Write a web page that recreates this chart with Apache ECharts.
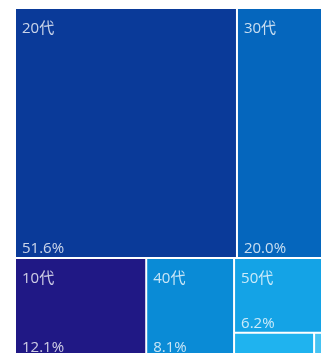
<!DOCTYPE html>
<html><head><meta charset="utf-8">
<script src="https://cdn.jsdelivr.net/npm/echarts@6/dist/echarts.min.js"></script>
<style>html,body{margin:0;padding:0;background:#fff;overflow:hidden}#c{width:321px;height:353px}</style>
</head><body><div id="c"></div>
<script>
const categories = ['20代', '30代', '10代', '40代', '50代', '60代', '70代以上'];
const shares = [51.6, 20.0, 12.1, 8.1, 6.2, 1.8, 0.2];
const colors = ['#0a3a99', '#0566bd', '#201885', '#0a8bd6', '#14a3e6', '#1fb3ef', '#45c3f3'];

const FONT = '"Open Sans", "Noto Sans CJK JP", sans-serif';
const TXT = 'rgba(255,255,255,0.78)';

const baseData = categories.map((c, i) => ({ name: c, value: shares[i] }));

const nameData = baseData.map((d, i) => ({
  name: d.name, value: d.value,
  itemStyle: { color: colors[i] },
  label: { show: d.value >= 3 }
}));
const pctData = baseData.map((d, i) => ({
  name: d.name, value: d.value,
  itemStyle: { color: 'rgba(0,0,0,0)' },
  label: { show: d.value >= 3 }
}));

const common = {
  type: 'treemap',
  left: 16, top: 9, width: 306, height: 347,
  roam: false, nodeClick: false,
  breadcrumb: { show: false },
  squareRatio: 0.5 * (1 + Math.sqrt(5)),
  animation: false,
  emphasis: { disabled: true },
  silent: true
};

const chart = echarts.init(document.getElementById('c'), null, { renderer: 'canvas' });
chart.setOption({
  animation: false,
  series: [
    Object.assign({}, common, {
      data: nameData,
      itemStyle: { borderWidth: 0, gapWidth: 2, borderColor: '#fff' },
      label: {
        show: true, position: 'insideTopLeft', distance: 0,
        padding: [12, 0, 0, 6],
        color: TXT, fontSize: 15, fontFamily: FONT,
        formatter: p => p.name
      }
    }),
    Object.assign({}, common, {
      data: pctData,
      itemStyle: { borderWidth: 0, gapWidth: 2, borderColor: 'rgba(0,0,0,0)', color: 'rgba(0,0,0,0)' },
      label: {
        show: true, position: 'insideBottomLeft', distance: 0,
        padding: [0, 0, 1, 6],
        color: TXT, fontSize: 15, fontFamily: FONT,
        formatter: p => p.value.toFixed(1) + '%'
      }
    })
  ]
});
</script>
</body></html>
